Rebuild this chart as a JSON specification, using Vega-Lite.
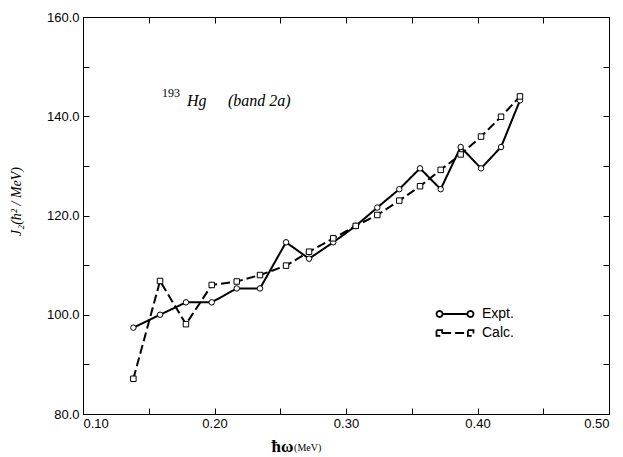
{
  "$schema": "https://vega.github.io/schema/vega-lite/v6.json",
  "width": 526,
  "height": 397,
  "autosize": "none",
  "padding": {"left": 83, "top": 17, "right": 14, "bottom": 43},
  "background": "white",
  "config": {
    "view": {"stroke": "black", "strokeWidth": 1},
    "axis": {"grid": false, "domainColor": "black", "tickColor": "black", "labelFont": "Liberation Sans", "labelFontSize": 13, "labelColor": "black", "titleColor": "black"}
  },
  "datasets": {
    "main": [
      {"omega": 0.1383, "J2": 97.4, "series": "Expt."},
      {"omega": 0.1586, "J2": 100.0, "series": "Expt."},
      {"omega": 0.1783, "J2": 102.5, "series": "Expt."},
      {"omega": 0.1979, "J2": 102.5, "series": "Expt."},
      {"omega": 0.2169, "J2": 105.3, "series": "Expt."},
      {"omega": 0.2346, "J2": 105.3, "series": "Expt."},
      {"omega": 0.2544, "J2": 114.6, "series": "Expt."},
      {"omega": 0.2719, "J2": 111.3, "series": "Expt."},
      {"omega": 0.2903, "J2": 114.6, "series": "Expt."},
      {"omega": 0.3074, "J2": 117.9, "series": "Expt."},
      {"omega": 0.3238, "J2": 121.6, "series": "Expt."},
      {"omega": 0.3405, "J2": 125.3, "series": "Expt."},
      {"omega": 0.3563, "J2": 129.5, "series": "Expt."},
      {"omega": 0.372, "J2": 125.3, "series": "Expt."},
      {"omega": 0.3872, "J2": 133.8, "series": "Expt."},
      {"omega": 0.4027, "J2": 129.5, "series": "Expt."},
      {"omega": 0.4179, "J2": 133.8, "series": "Expt."},
      {"omega": 0.4323, "J2": 143.2, "series": "Expt."},
      {"omega": 0.1383, "J2": 87.1, "series": "Calc."},
      {"omega": 0.1586, "J2": 106.8, "series": "Calc."},
      {"omega": 0.1783, "J2": 98.1, "series": "Calc."},
      {"omega": 0.1979, "J2": 106.0, "series": "Calc."},
      {"omega": 0.2169, "J2": 106.7, "series": "Calc."},
      {"omega": 0.2346, "J2": 108.0, "series": "Calc."},
      {"omega": 0.2544, "J2": 109.9, "series": "Calc."},
      {"omega": 0.2719, "J2": 112.7, "series": "Calc."},
      {"omega": 0.2903, "J2": 115.4, "series": "Calc."},
      {"omega": 0.3074, "J2": 117.9, "series": "Calc."},
      {"omega": 0.3238, "J2": 120.1, "series": "Calc."},
      {"omega": 0.3405, "J2": 123.0, "series": "Calc."},
      {"omega": 0.3563, "J2": 125.9, "series": "Calc."},
      {"omega": 0.372, "J2": 129.2, "series": "Calc."},
      {"omega": 0.3872, "J2": 132.3, "series": "Calc."},
      {"omega": 0.4027, "J2": 135.9, "series": "Calc."},
      {"omega": 0.4179, "J2": 139.9, "series": "Calc."},
      {"omega": 0.4323, "J2": 144.0, "series": "Calc."}
    ]
  },
  "resolve": {"axis": {"x": "independent", "y": "independent"}, "legend": {"strokeDash": "independent", "shape": "independent"}},
  "layer": [
    {
      "data": {"name": "main"},
      "mark": {"type": "line", "color": "black", "strokeWidth": 2},
      "encoding": {
        "x": {"field": "omega", "type": "quantitative", "scale": {"domain": [0.1, 0.5], "nice": false, "zero": false},
          "axis": {"orient": "bottom", "values": [0.1, 0.15, 0.2, 0.25, 0.3, 0.35, 0.4, 0.45, 0.5], "tickSize": -6, "labelPadding": 9,
            "labelExpr": "abs(datum.value*10 - round(datum.value*10)) < 0.001 ? format(datum.value, '.2f') : ''",
            "title": "ħω", "titleFont": "Liberation Serif", "titleFontSize": 17, "titleFontWeight": "bold", "titleX": 199, "titleY": 37, "titleAlign": "center", "titleBaseline": "alphabetic"}},
        "y": {"field": "J2", "type": "quantitative", "scale": {"domain": [80, 160], "nice": false, "zero": false},
          "axis": {"orient": "left", "values": [80, 90, 100, 110, 120, 130, 140, 150, 160], "tickSize": -6, "labelPadding": 10,
            "labelExpr": "datum.value % 20 == 0 ? format(datum.value, '.1f') : ''",
            "title": "J₂(ħ² / MeV)", "titleFont": "Liberation Serif", "titleFontSize": 14, "titleFontStyle": "italic", "titleFontWeight": "normal", "titleX": -63, "titleY": 184, "titleAlign": "center", "titleBaseline": "alphabetic"}},
        "detail": {"field": "series"},
        "strokeDash": {"field": "series", "type": "nominal",
          "scale": {"domain": ["Expt.", "Calc."], "range": [[1, 0], [9, 4]]},
          "legend": {"title": null, "orient": "none", "legendX": 364, "legendY": 289,
            "symbolType": "M-2.64,0a0.43,0.43 0 1,0 0.86,0a0.43,0.43 0 1,0 -0.86,0M-1.78,0H1.78M1.78,0a0.43,0.43 0 1,0 0.86,0a0.43,0.43 0 1,0 -0.86,0",
            "symbolSize": 196, "symbolStrokeWidth": 1.8, "symbolStrokeColor": "black", "symbolFillColor": "white", "labelOffset": 19,
            "labelFont": "Liberation Sans", "labelFontSize": 14, "labelColor": "black", "rowPadding": 4, "padding": 0,
            "encode": {"symbols": {"update": {"shape": {"signal": "datum.value == 'Expt.' ? 'M-2.64,0a0.43,0.43 0 1,0 0.86,0a0.43,0.43 0 1,0 -0.86,0M-1.78,0H1.78M1.78,0a0.43,0.43 0 1,0 0.86,0a0.43,0.43 0 1,0 -0.86,0' : 'M-2.64,-0.4H-1.84V0.4H-2.64ZM-1.84,0H1.84M1.84,-0.4H2.64V0.4H1.84Z'"}}}}}}
      }
    },
    {
      "data": {"name": "main"},
      "mark": {"type": "point", "filled": false, "fill": "white", "fillOpacity": 1, "stroke": "black", "strokeWidth": 1, "size": 30, "opacity": 1},
      "encoding": {
        "x": {"field": "omega", "type": "quantitative", "axis": {"orient": "top", "values": [0.1, 0.15, 0.2, 0.25, 0.3, 0.35, 0.4, 0.45, 0.5], "tickSize": -6, "labels": false, "title": null, "domain": false}},
        "y": {"field": "J2", "type": "quantitative", "axis": {"orient": "right", "values": [80, 90, 100, 110, 120, 130, 140, 150, 160], "tickSize": -6, "labels": false, "title": null, "domain": false}},
        "shape": {"field": "series", "type": "nominal", "scale": {"domain": ["Expt.", "Calc."], "range": ["circle", "square"]}, "legend": null}
      }
    },
    {
      "data": {"values": [{}]},
      "mark": {"type": "text", "font": "Liberation Serif", "fontSize": 12, "align": "left", "baseline": "alphabetic", "color": "black"},
      "encoding": {"x": {"datum": 0.1601, "type": "quantitative", "axis": null}, "y": {"datum": 143.9, "type": "quantitative", "axis": null}, "text": {"value": "193"}}
    },
    {
      "data": {"values": [{}]},
      "mark": {"type": "text", "font": "Liberation Serif", "fontSize": 16, "fontStyle": "italic", "align": "left", "baseline": "alphabetic", "color": "black"},
      "encoding": {"x": {"datum": 0.1791, "type": "quantitative", "axis": null}, "y": {"datum": 142.1, "type": "quantitative", "axis": null}, "text": {"value": "Hg"}}
    },
    {
      "data": {"values": [{}]},
      "mark": {"type": "text", "font": "Liberation Serif", "fontSize": 16, "fontStyle": "italic", "align": "left", "baseline": "alphabetic", "color": "black"},
      "encoding": {"x": {"datum": 0.2103, "type": "quantitative", "axis": null}, "y": {"datum": 142.1, "type": "quantitative", "axis": null}, "text": {"value": "(band 2a)"}}
    },
    {
      "data": {"values": [{}]},
      "mark": {"type": "text", "font": "Liberation Serif", "fontSize": 10, "align": "left", "baseline": "alphabetic", "color": "black", "clip": false},
      "encoding": {"x": {"datum": 0.2605, "type": "quantitative", "axis": null}, "y": {"datum": 72.5, "type": "quantitative", "axis": null}, "text": {"value": "(MeV)"}}
    }
  ]
}
